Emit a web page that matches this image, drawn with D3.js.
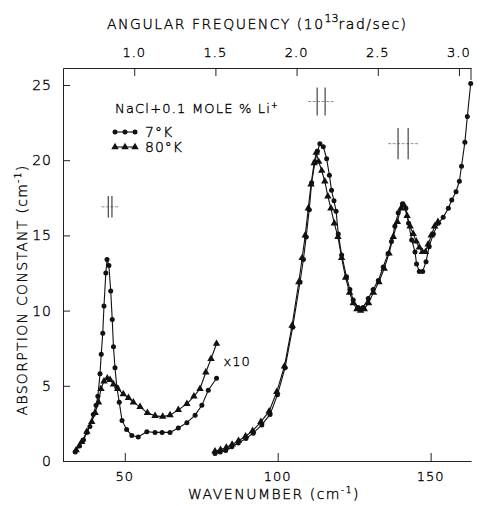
<!DOCTYPE html>
<html>
<head>
<meta charset="utf-8">
<script src="https://cdn.jsdelivr.net/npm/d3@7/dist/d3.min.js"></script>
<style>
  html, body { margin: 0; padding: 0; background: #fff; }
  svg text { font-family: "DejaVu Sans", "Liberation Sans", sans-serif; font-weight: 200; fill: #000; stroke: #000; stroke-width: 0.35px; }
</style>
</head>
<body>
<div id="chart"></div>
<script>
(function () {
  'use strict';

  // 7 K, x10 section (wavenumber cm^-1, absorption cm^-1)
  var lowW7 = [33.8, 35.2, 36.5, 37.6, 38.6, 39.7, 40.6, 41.2, 41.9, 42.3, 42.8, 43.2, 43.8, 44.2, 44.8, 45.4, 45.9, 46.3, 46.8, 47.4, 48.2, 49.1, 50.6, 52.3, 54.4, 57.2, 59.9, 62.2, 64.8, 67.5, 70.3, 73.0, 75.2, 77.3, 80.0];
  var lowA7 = [0.6, 1.0, 1.4, 1.9, 2.3, 3.1, 3.7, 4.3, 5.8, 7.1, 8.5, 10.3, 12.5, 13.4, 13.0, 11.3, 9.4, 7.6, 6.2, 4.9, 3.9, 2.7, 2.1, 1.7, 1.6, 1.95, 1.9, 1.9, 1.9, 2.2, 2.55, 3.05, 3.7, 4.7, 5.5];

  // 80 K, x10 section
  var lowW80 = [34.1, 35.9, 37.6, 39.2, 40.3, 41.4, 42.2, 43.2, 44.3, 45.2, 46.3, 47.7, 49.5, 51.2, 52.8, 55.0, 57.4, 59.9, 62.4, 64.8, 67.5, 70.3, 72.6, 74.6, 76.5, 78.2, 80.0];
  var lowA80 = [0.73, 1.28, 1.95, 2.6, 3.2, 3.9, 4.8, 5.3, 5.5, 5.4, 5.1, 4.8, 4.45, 4.2, 3.9, 3.6, 3.2, 3.0, 2.95, 3.05, 3.4, 3.8, 4.3, 4.8, 5.9, 6.8, 7.8];

  // 7 K, main section
  var highW7 = [79.5, 81.2, 83.0, 85.0, 87.1, 89.6, 92.0, 94.8, 97.5, 99.9, 102.4, 104.9, 107.3, 108.4, 109.3, 110.3, 111.1, 112.2, 113.0, 113.8, 114.9, 116.0, 116.9, 117.6, 118.4, 119.1, 119.8, 120.9, 122.5, 123.6, 124.7, 126.3, 127.9, 129.6, 131.2, 132.9, 134.5, 136.1, 137.2, 138.3, 139.4, 140.8, 141.9, 142.8, 143.8, 144.9, 145.4, 146.3, 147.4, 148.5, 149.5, 150.9, 152.5, 154.1, 155.8, 156.9, 158.3, 159.4, 160.1, 161.2, 162.0, 163.1];
  var highA7 = [0.5, 0.6, 0.7, 0.95, 1.2, 1.5, 1.85, 2.4, 3.1, 4.4, 6.2, 8.9, 11.9, 13.4, 14.9, 16.7, 18.5, 19.9, 20.6, 21.1, 20.9, 20.1, 19.0, 18.0, 17.3, 16.6, 15.1, 13.7, 12.25, 11.4, 10.7, 10.2, 10.2, 10.8, 11.4, 12.0, 12.9, 13.8, 14.6, 15.6, 16.5, 17.1, 16.8, 15.8, 14.7, 13.9, 13.1, 12.6, 12.6, 13.25, 14.25, 15.1, 15.8, 16.2, 16.8, 17.35, 17.9, 18.6, 19.6, 21.2, 22.9, 25.1];

  // 80 K, main section
  var highW80 = [79.5, 81.3, 83.2, 85.1, 87.2, 89.5, 91.8, 94.5, 97.2, 99.7, 102.2, 104.7, 106.9, 108.0, 109.0, 110.0, 110.9, 111.9, 112.6, 113.4, 114.4, 115.4, 116.4, 117.4, 118.5, 119.7, 120.9, 122.2, 123.5, 124.7, 125.9, 127.1, 128.3, 129.7, 131.3, 133.1, 134.8, 136.4, 137.8, 139.1, 140.3, 141.3, 142.3, 143.3, 144.3, 145.3, 146.3, 147.3, 148.3, 149.2, 150.2, 151.3, 152.4];
  var highA80 = [0.65, 0.75, 0.9, 1.1, 1.35, 1.65, 2.0, 2.6, 3.3, 4.6, 6.3, 9.0, 11.9, 13.5, 15.0, 16.8, 18.4, 19.8, 20.5, 19.9, 19.3, 18.6, 17.6, 16.8, 15.8, 14.9, 13.5, 12.2, 11.2, 10.5, 10.1, 10.0, 10.1, 10.5, 11.2, 11.9, 12.8, 13.8, 14.9, 15.9, 16.8, 17.0, 16.3, 15.6, 15.1, 14.6, 14.2, 13.9, 13.9, 14.4, 15.0, 15.6, 15.9];

  // resolution markers: centre wavenumber, height, bar gap, horizontal span (cm^-1)
  var resW = [45.2, 114.2, 141.0];
  var resA = [16.9, 23.9, 21.1];
  var resGap = [1.2, 2.6, 3.3];
  var resSpan = [5.6, 8.5, 9.8];

  var yTicks = [0, 5, 10, 15, 20, 25];
  var xTicks = [50, 100, 150];
  var omegaTicks = [1.0, 1.5, 2.0, 2.5, 3.0];
  var OMEGA_PER_WN = 2 * Math.PI * 2.998e10 * 1e-13; // 10^13 rad/s per cm^-1

  var W = 482, H = 506;
  var m = { top: 68, right: 11, bottom: 45, left: 63 };

  var svg = d3.select('#chart').append('svg').attr('width', W).attr('height', H);

  var x = d3.scaleLinear().domain([29.8, 163.2]).range([m.left, W - m.right]);
  var y = d3.scaleLinear().domain([0, 26.13]).range([H - m.bottom, m.top]);
  var xTop = d3.scaleLinear()
    .domain(x.domain().map(function (d) { return d * OMEGA_PER_WN; }))
    .range(x.range());

  function zip(ws, as) {
    return ws.map(function (w, i) { return [w, as[i]]; });
  }

  // Axes (ticks point inward, no outer caps)
  var gBottom = svg.append('g').attr('transform', 'translate(0,' + y(0) + ')')
    .call(d3.axisTop(x).tickValues(xTicks).tickSize(8).tickSizeOuter(0).tickFormat(''));
  svg.selectAll('.xlab').data(xTicks).enter().append('text')
    .attr('x', function (d) { return x(d); }).attr('y', y(0) + 20)
    .attr('text-anchor', 'middle').style('font-size', '13px').style('letter-spacing', '1px')
    .text(function (d) { return d; });

  var gTop = svg.append('g').attr('transform', 'translate(0,' + m.top + ')')
    .call(d3.axisBottom(xTop).tickValues(omegaTicks).tickSize(8).tickSizeOuter(0).tickFormat(''));
  svg.selectAll('.toplab').data(omegaTicks).enter().append('text')
    .attr('x', function (d) { return xTop(d); }).attr('y', m.top - 11)
    .attr('text-anchor', 'middle').style('font-size', '13px').style('letter-spacing', '1px')
    .text(function (d) { return d3.format('.1f')(d); });
  // short cap at right end of top axis
  svg.append('line').attr('x1', W - m.right).attr('x2', W - m.right)
    .attr('y1', m.top).attr('y2', m.top + 12).attr('stroke', '#222');

  var gLeft = svg.append('g').attr('transform', 'translate(' + m.left + ',0)')
    .call(d3.axisRight(y).tickValues(yTicks).tickSize(7).tickSizeOuter(0).tickFormat(''));
  svg.selectAll('.ylab').data(yTicks).enter().append('text')
    .attr('x', m.left - 11).attr('y', function (d) { return y(d) + 5; })
    .attr('text-anchor', 'end').style('font-size', '14px').style('letter-spacing', '1px')
    .text(function (d) { return d; });

  [gBottom, gTop, gLeft].forEach(function (g) {
    g.selectAll('path, line').attr('stroke', '#222').attr('stroke-width', 1);
  });

  // Axis titles
  var top = svg.append('text').attr('x', 107).attr('y', 29)
    .style('font-size', '14px').style('letter-spacing', '1.5px');
  top.append('tspan').text('ANGULAR  FREQUENCY (10');
  top.append('tspan').attr('dy', -7).style('font-size', '11px').style('letter-spacing', '0').text('13');
  top.append('tspan').attr('dy', 7).text('rad/sec)');

  var bot = svg.append('text').attr('x', 274).attr('y', 499)
    .attr('text-anchor', 'middle').style('font-size', '14px').style('letter-spacing', '1.5px');
  bot.append('tspan').text('WAVENUMBER (cm');
  bot.append('tspan').attr('dy', -6).style('font-size', '9px').text('-1');
  bot.append('tspan').attr('dy', 6).text(')');

  var yl = svg.append('text').attr('transform', 'translate(27,290) rotate(-90)')
    .attr('text-anchor', 'middle').style('font-size', '14px').style('letter-spacing', '1.3px');
  yl.append('tspan').text('ABSORPTION  CONSTANT (cm');
  yl.append('tspan').attr('dy', -6).style('font-size', '9px').text('-1');
  yl.append('tspan').attr('dy', 6).text(')');

  // Curves
  var line = d3.line().x(function (d) { return x(d[0]); }).y(function (d) { return y(d[1]); });
  var tri = d3.symbol().type(d3.symbolTriangle).size(24);

  function drawSeries(pts, kind) {
    svg.append('path').datum(pts).attr('d', line)
      .attr('fill', 'none').attr('stroke', '#111').attr('stroke-width', 1.1);
    var g = svg.append('g');
    if (kind === 'circle') {
      g.selectAll('circle').data(pts).enter().append('circle')
        .attr('cx', function (d) { return x(d[0]); })
        .attr('cy', function (d) { return y(d[1]); })
        .attr('r', 2.5).attr('fill', '#111');
    } else {
      g.selectAll('path').data(pts).enter().append('path')
        .attr('d', tri)
        .attr('transform', function (d) { return 'translate(' + x(d[0]) + ',' + y(d[1]) + ')'; })
        .attr('fill', '#111');
    }
  }

  drawSeries(zip(lowW80, lowA80), 'triangle');
  drawSeries(zip(highW80, highA80), 'triangle');
  drawSeries(zip(lowW7, lowA7), 'circle');
  drawSeries(zip(highW7, highA7), 'circle');

  svg.append('text').attr('x', x(79.0) + 10).attr('y', y(6.3))
    .style('font-size', '13px').style('letter-spacing', '1px').text('x10');

  // Resolution markers
  resW.forEach(function (w, i) {
    var g = svg.append('g');
    var cy = y(resA[i]);
    var half = 8 + resGap[i] * 2.3;
    g.append('line')
      .attr('x1', x(w - resSpan[i] / 2)).attr('x2', x(w + resSpan[i] / 2))
      .attr('y1', cy).attr('y2', cy)
      .attr('stroke', '#777').attr('stroke-width', 0.8).attr('stroke-dasharray', '3,1.5');
    [-1, 1].forEach(function (s) {
      g.append('line')
        .attr('x1', x(w + s * resGap[i] / 2)).attr('x2', x(w + s * resGap[i] / 2))
        .attr('y1', cy - half).attr('y2', cy + half)
        .attr('stroke', '#333').attr('stroke-width', 1.1);
    });
  });

  // Legend
  svg.append('text').attr('x', 115).attr('y', 113)
    .style('font-size', '13px').style('letter-spacing', '1.2px')
    .html('NaCl+0.1 MOLE % Li<tspan dy="-5" font-size="8px">+</tspan>');
  var legendRows = [
    { label: '7°K', kind: 'circle', y: 132 },
    { label: '80°K', kind: 'triangle', y: 147 }
  ];
  legendRows.forEach(function (r) {
    var xs = [115, 125, 135];
    svg.append('line').attr('x1', xs[0]).attr('x2', xs[2]).attr('y1', r.y).attr('y2', r.y)
      .attr('stroke', '#111').attr('stroke-width', 1.1);
    xs.forEach(function (px) {
      if (r.kind === 'circle') {
        svg.append('circle').attr('cx', px).attr('cy', r.y).attr('r', 2.5).attr('fill', '#111');
      } else {
        svg.append('path').attr('d', tri).attr('transform', 'translate(' + px + ',' + r.y + ')').attr('fill', '#111');
      }
    });
    svg.append('text').attr('x', 145).attr('y', r.y + 5)
      .style('font-size', '14px').style('letter-spacing', '1px').text(r.label);
  });
})();
</script>
</body>
</html>
